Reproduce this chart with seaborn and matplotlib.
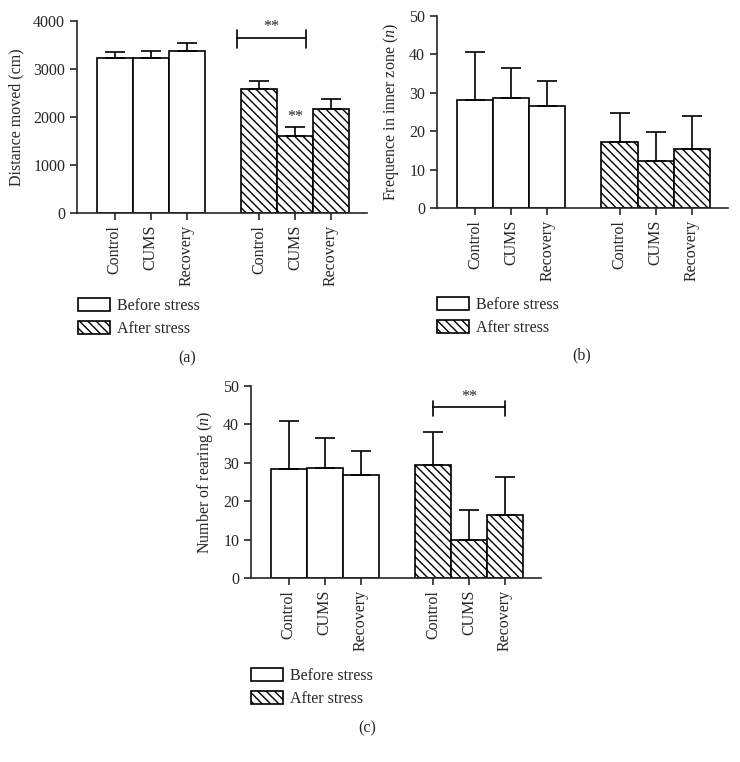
import matplotlib
matplotlib.use("Agg")
import matplotlib.pyplot as plt
import numpy as np
import pandas as pd
import seaborn as sns
from matplotlib.patches import Patch

sns.set_style("ticks")
plt.rcParams["font.family"] = ["Liberation Serif", "DejaVu Serif"]
plt.rcParams["mathtext.fontset"] = "custom"
plt.rcParams["mathtext.it"] = "Liberation Serif:italic"
plt.rcParams["mathtext.rm"] = "Liberation Serif"
plt.rcParams["hatch.linewidth"] = 1.0
FS = 11.5

groups = ["Control", "CUMS", "Recovery"]

distance_before = [3220, 3220, 3380]
distance_before_sd = [140, 155, 170]
distance_after = [2580, 1600, 2170]
distance_after_sd = [180, 190, 205]

inner_before = [28.2, 28.6, 26.6]
inner_before_sd = [12.4, 7.8, 6.6]
inner_after = [17.3, 12.3, 15.4]
inner_after_sd = [7.4, 7.5, 8.6]

rearing_before = [28.4, 28.7, 26.7]
rearing_before_sd = [12.4, 7.8, 6.5]
rearing_after = [29.3, 10.0, 16.3]
rearing_after_sd = [8.8, 7.6, 9.9]

order = [f"{g} (before)" for g in groups] + [""] + [f"{g} (after)" for g in groups]


def make_frame(before, before_sd, after, after_sd):
    return pd.DataFrame({
        "key": [f"{g} (before)" for g in groups] + [f"{g} (after)" for g in groups],
        "value": before + after,
        "sd": before_sd + after_sd,
    })


def draw_panel(ax, df, ylim, yticks, ylabel):
    sns.barplot(data=df, x="key", y="value", order=order, color="white",
                edgecolor="black", linewidth=1.2, width=1.0, errorbar=None,
                saturation=1, ax=ax)
    for p in ax.patches:
        p.set_facecolor("white")
        p.set_edgecolor("black")
        if p.get_x() > 3:
            p.set_hatch("\\\\\\\\")
    xpos = [order.index(k) for k in df["key"]]
    ax.errorbar(xpos, df["value"], yerr=[np.zeros(len(df)), df["sd"]],
                fmt="none", ecolor="black", elinewidth=1.2, capsize=7,
                capthick=1.2, zorder=1)
    ax.set_xlim(-1.05, 7.0)
    ax.set_ylim(*ylim)
    ax.set_yticks(yticks)
    ax.set_xticks([0, 1, 2, 4, 5, 6])
    ax.set_xticklabels(groups * 2, rotation=90, fontsize=FS)
    ax.tick_params(axis="y", labelsize=FS, length=5, width=1.2)
    ax.tick_params(axis="x", length=5, width=1.2)
    ax.set_xlabel("")
    ax.set_ylabel(ylabel, fontsize=FS, labelpad=6)
    for s in ["left", "bottom"]:
        ax.spines[s].set_linewidth(1.2)
    sns.despine(ax=ax)


def bracket(ax, x0, x1, y, lo, hi, ytext):
    ax.plot([x0, x1], [y, y], color="black", lw=1.2, clip_on=False)
    ax.plot([x0, x0], [lo, hi], color="black", lw=1.2, clip_on=False)
    ax.plot([x1, x1], [lo, hi], color="black", lw=1.2, clip_on=False)
    ax.text((x0 + x1) / 2, ytext, "**", ha="center", va="center", fontsize=FS)


def add_legend(fig, x_px, y_px):
    handles = [Patch(facecolor="white", edgecolor="black", lw=1.2, label="Before stress"),
               Patch(facecolor="white", edgecolor="black", lw=1.2, hatch="\\\\\\\\",
                     label="After stress")]
    fig.legend(handles=handles, loc="upper left",
               bbox_to_anchor=(x_px / 740, 1 - y_px / 762), frameon=False,
               fontsize=FS, borderpad=0, borderaxespad=0, handlelength=2.0,
               handleheight=0.85, handletextpad=0.45, labelspacing=0.45)


fig = plt.figure(figsize=(7.4, 7.62), dpi=100)
W, H = 740, 762


def axes_px(left, top, right, bottom):
    return fig.add_axes([left / W, 1 - bottom / H, (right - left) / W, (bottom - top) / H])


ax_a = axes_px(77, 21, 367, 213)
ax_b = axes_px(437, 16, 728, 208)
ax_c = axes_px(251, 386, 541, 578)

draw_panel(ax_a, make_frame(distance_before, distance_before_sd, distance_after, distance_after_sd),
           (0, 4000), [0, 1000, 2000, 3000, 4000], "Distance moved (cm)")
draw_panel(ax_b, make_frame(inner_before, inner_before_sd, inner_after, inner_after_sd),
           (0, 50), [0, 10, 20, 30, 40, 50], "Frequence in inner zone ($n$)")
draw_panel(ax_c, make_frame(rearing_before, rearing_before_sd, rearing_after, rearing_after_sd),
           (0, 50), [0, 10, 20, 30, 40, 50], "Number of rearing ($n$)")

bracket(ax_a, 3.4, 5.3, 3640, 3440, 3810, 3875)
ax_a.text(5, 1840, "**", ha="center", va="bottom", fontsize=FS)
bracket(ax_c, 4, 6, 44.5, 42.3, 46.1, 47.1)

add_legend(fig, 78, 298)
add_legend(fig, 437, 297)
add_legend(fig, 251, 668)

fig.text(187 / W, 1 - 358 / H, "(a)", ha="center", va="center", fontsize=FS)
fig.text(582 / W, 1 - 355 / H, "(b)", ha="center", va="center", fontsize=FS)
fig.text(367 / W, 1 - 728 / H, "(c)", ha="center", va="center", fontsize=FS)

fig.savefig("out.png", dpi=100)
